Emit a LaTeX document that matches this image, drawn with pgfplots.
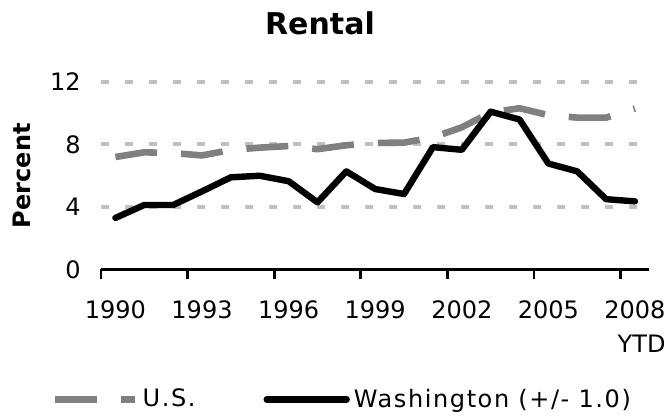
\documentclass[border=0pt]{standalone}
\usepackage{fontspec}
\setmainfont{DejaVu Sans}
\newfontfamily\legfont{DejaVu Sans}[LetterSpace=6.6]
\usepackage{pgfplots}
\pgfplotsset{compat=1.18}
\definecolor{usgray}{HTML}{808080}
\definecolor{gridgray}{HTML}{C0C0C0}

\begin{document}
\begin{tikzpicture}
\path[use as bounding box] (-50.5pt,-73.25pt) rectangle (283.5pt,134.75pt);
\begin{axis}[
    at={(0,0)}, anchor=south west,
    scale only axis,
    width=274.2pt, height=93.75pt,
    xmin=1989.5, xmax=2008.5,
    ymin=0, ymax=12,
    clip=false,
    axis x line*=bottom, axis y line*=left,
    x axis line style={-, line width=1.35pt, black},
    y axis line style={draw=none},
    tick align=outside, major tick length=5pt,
    /pgf/number format/assume math mode=true,
    tick label style={font=\fontsize{12}{16.7}\selectfont},
    ytick={4,8,12},
    extra y ticks={0},
    extra y tick style={grid=none},
    ymajorgrids=true,
    major grid style={gridgray, line width=2pt, dash pattern=on 3.85pt off 8.15pt},
    ytick style={draw=none},
    yticklabel style={anchor=east, inner sep=0pt, xshift=-5pt},
    xtick={1990,1993,1996,1999,2002,2005,2008},
    xticklabels={1990,1993,1996,1999,2002,2005,{2008\\YTD}},
    xtick style={draw=none},
    xticklabel style={align=right, anchor=north, inner sep=0pt, yshift=-10.5pt},
    extra x ticks={1989.5,1992.5,1995.5,1998.5,2001.5,2004.5,2007.5},
    extra x tick labels={},
    extra x tick style={xtick style={draw=black, line width=1.35pt}},
    title={Rental},
    title style={at={(axis description cs:0.3993,1.2464)}, anchor=center,
        font=\fontsize{15}{18}\selectfont\bfseries},
    ylabel={Percent},
    ylabel style={at={(axis description cs:-0.1440,0.5)}, anchor=center,
        font=\fontsize{12}{14}\selectfont\bfseries},
    legend columns=2,
    legend style={at={(axis description cs:-0.0899,-0.6933)}, anchor=west,
        draw=none, fill=none, inner sep=0pt,
        nodes={inner sep=0pt, font=\legfont\fontsize{12}{14}\selectfont},
        /tikz/every odd column/.style={column sep=2pt},
        /tikz/every even column/.style={column sep=34pt}},
    legend image code/.code={\draw[#1] (0pt,0pt) -- (40pt,0pt);},
]
% U.S.
\addplot[usgray, line width=3.3pt, dash pattern=on 21pt off 12pt,
    line cap=butt, line join=round] coordinates {
    (1990,7.2) (1991,7.5) (1992,7.45) (1993,7.3) (1994,7.65)
    (1995,7.8) (1996,7.9) (1997,7.7) (1998,7.95) (1999,8.1)
    (2000,8.12) (2001,8.45) (2002,9.1) (2003,10.05) (2004,10.32)
    (2005,9.88) (2006,9.72) (2007,9.72) (2008,10.3)
};
\addlegendentry{U.S.}
% Washington
\addplot[black, line width=3.2pt, line cap=round, line join=round] coordinates {
    (1990,3.3) (1991,4.13) (1992,4.13) (1993,5.0) (1994,5.9)
    (1995,6.0) (1996,5.65) (1997,4.3) (1998,6.28) (1999,5.15)
    (2000,4.83) (2001,7.83) (2002,7.66) (2003,10.1) (2004,9.6)
    (2005,6.78) (2006,6.28) (2007,4.5) (2008,4.36)
};
\addlegendentry{Washington (+/- 1.0)}
\end{axis}
\end{tikzpicture}
\end{document}
